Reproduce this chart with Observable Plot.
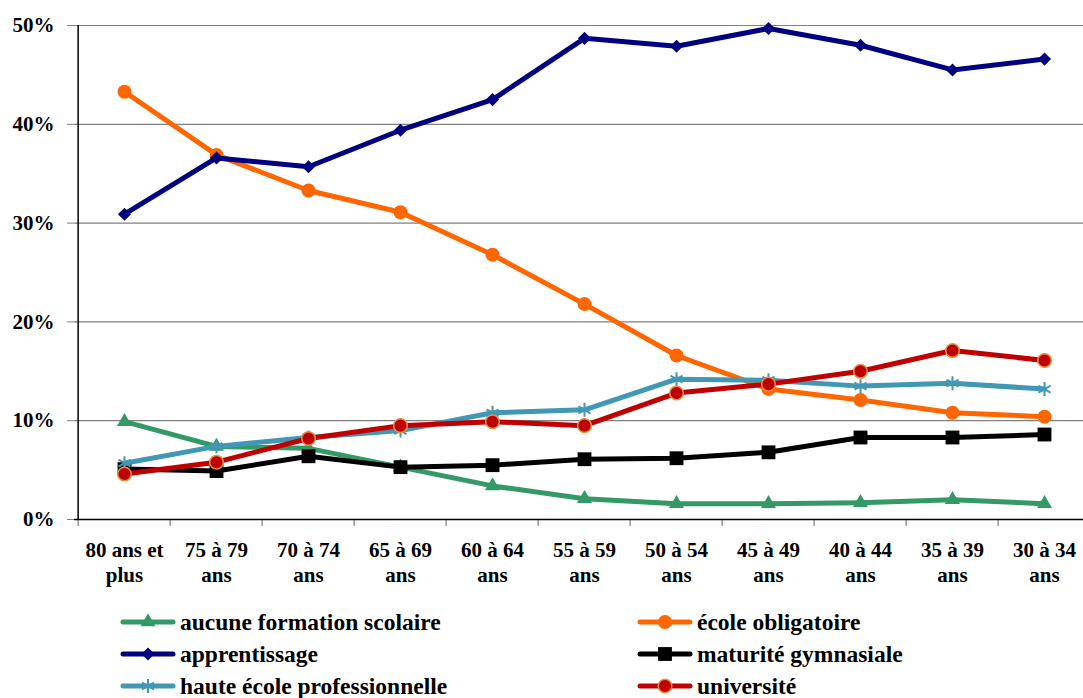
<!DOCTYPE html>
<html><head><meta charset="utf-8">
<script src="https://cdn.jsdelivr.net/npm/d3@7"></script>
<script src="https://cdn.jsdelivr.net/npm/@observablehq/plot@0.6"></script>
<style>
body{margin:0;background:#fff;font-family:"Liberation Serif",serif;}
#wrap{position:relative;width:1083px;height:698px;overflow:hidden;background:#fff}
#wrap svg.plot{position:absolute;left:0;top:0}
.leg{position:absolute;font-family:"Liberation Serif",serif;font-weight:bold;font-size:23.5px;display:flex;align-items:center;white-space:nowrap;color:#000;height:30px}
.leg svg{margin-right:4px}
g[aria-label="y-axis tick"] path{stroke:#808080}
</style></head><body><div id="wrap"></div>
<script>
const categories = ["80 ans et plus","75 à 79 ans","70 à 74 ans","65 à 69 ans","60 à 64 ans","55 à 59 ans","50 à 54 ans","45 à 49 ans","40 à 44 ans","35 à 39 ans","30 à 34 ans"];
const tickLabels = ["80 ans et\nplus","75 à 79\nans","70 à 74\nans","65 à 69\nans","60 à 64\nans","55 à 59\nans","50 à 54\nans","45 à 49\nans","40 à 44\nans","35 à 39\nans","30 à 34\nans"];
const seriesNames = ["aucune formation scolaire","école obligatoire","apprentissage","maturité gymnasiale","haute école professionnelle","université"];
const aucune      = [9.9, 7.4, 7.2, 5.3, 3.4, 2.1, 1.6, 1.6, 1.7, 2.0, 1.6];
const ecoleOblig  = [43.3, 36.9, 33.3, 31.1, 26.8, 21.8, 16.6, 13.2, 12.1, 10.8, 10.4];
const apprentiss  = [30.9, 36.6, 35.7, 39.4, 42.5, 48.7, 47.9, 49.7, 48.0, 45.5, 46.6];
const maturite    = [5.1, 4.9, 6.4, 5.3, 5.5, 6.1, 6.2, 6.8, 8.3, 8.3, 8.6];
const hauteEcole  = [5.7, 7.4, 8.3, 9.0, 10.8, 11.1, 14.2, 14.1, 13.5, 13.8, 13.2];
const universite  = [4.6, 5.8, 8.2, 9.5, 9.9, 9.5, 12.8, 13.7, 15.0, 17.1, 16.1];
const yTicks = [0, 10, 20, 30, 40, 50];

const seriesValues = [aucune, ecoleOblig, apprentiss, maturite, hauteEcole, universite];
const styles = [
  {color:"#339966", symbol:"triangle", r:5.6, fill:"#339966", stroke:"none", sw:0},
  {color:"#ff6600", symbol:"circle", r:7, fill:"#ff6600", stroke:"none", sw:0},
  {color:"#000080", symbol:"diamond2", r:5.9, fill:"#000080", stroke:"none", sw:0},
  {color:"#000000", symbol:"square", r:7.8, fill:"#000000", stroke:"none", sw:0},
  {color:"#4198b4", symbol:"asterisk", r:6.6, fill:"none", stroke:"#4198b4", sw:2},
  {color:"#c00000", symbol:"circle", r:6.8, fill:"#c00000", stroke:"#e8903f", sw:1.5}
];
const tables = seriesValues.map((vals, s) => categories.map((c, i) => ({cat:c, value:vals[i], series:seriesNames[s]})));

const step = (1094 - 74) / categories.length;
const marks = [
  Plot.ruleY(yTicks.filter(d => d > 0), {stroke:"#808080", strokeWidth:1.2}),
  Plot.ruleX([categories[0]], {y1:0, y2:50, dx:-step/2, stroke:"#000", strokeWidth:1.5}),
  Plot.ruleX(categories, {y1:0, y2:-0.7, dx:-step/2, stroke:"#808080", strokeWidth:1.2}),
  Plot.ruleY([0], {stroke:"#000", strokeWidth:1.5}),
  Plot.text(categories, {x:d => d, y:0, text:(d, i) => tickLabels[i], lineAnchor:"top", dy:19, lineHeight:1.22, fontSize:21, fontWeight:"bold", fill:"#000", fontFamily:"Liberation Serif"})
];
tables.forEach((t, s) => {
  const st = styles[s];
  marks.push(Plot.line(t, {x:"cat", y:"value", stroke:st.color, strokeWidth:5, strokeLinejoin:"round", strokeLinecap:"round"}));
  marks.push(Plot.dot(t, {x:"cat", y:"value", symbol:st.symbol, r:st.r, fill:st.fill, stroke:st.stroke, strokeWidth:st.sw}));
});

const chart = Plot.plot({
  width:1083, height:590, marginLeft:74, marginRight:0, marginTop:25, marginBottom:71,
  style:{fontFamily:"Liberation Serif, serif", fontSize:"21px", fontWeight:"bold", color:"#000", background:"#fff", overflow:"visible"},
  x:{type:"point", domain:categories, range:[74, 1094], padding:0.5, axis:null},
  y:{domain:[0, 50], range:[519, 25], ticks:yTicks, tickSize:7, tickPadding:13, tickFormat:d => d + "%", label:null},
  marks
});
chart.classList.add("plot");
const wrap = document.getElementById("wrap");
wrap.appendChild(chart);

// legend
const legPos = [[120, 622], [637, 622], [120, 654], [637, 654], [120, 686], [637, 686]];
const sym = {triangle:d3.symbolTriangle, circle:d3.symbolCircle, diamond2:d3.symbolDiamond2, square:d3.symbolSquare, asterisk:d3.symbolAsterisk};
seriesNames.forEach((name, s) => {
  const st = styles[s];
  const div = document.createElement("div");
  div.className = "leg";
  div.style.left = legPos[s][0] + "px";
  div.style.top = (legPos[s][1] - 15) + "px";
  const path = d3.symbol(sym[st.symbol], st.r * st.r * Math.PI)();
  div.innerHTML = `<svg width="56" height="24" viewBox="0 0 56 24"><line x1="3" y1="12" x2="53" y2="12" stroke="${st.color}" stroke-width="5" stroke-linecap="round"/><path transform="translate(28,12)" d="${path}" fill="${st.fill}" stroke="${st.stroke}" stroke-width="${st.sw}"/></svg><span>${name}</span>`;
  wrap.appendChild(div);
});
</script></body></html>
